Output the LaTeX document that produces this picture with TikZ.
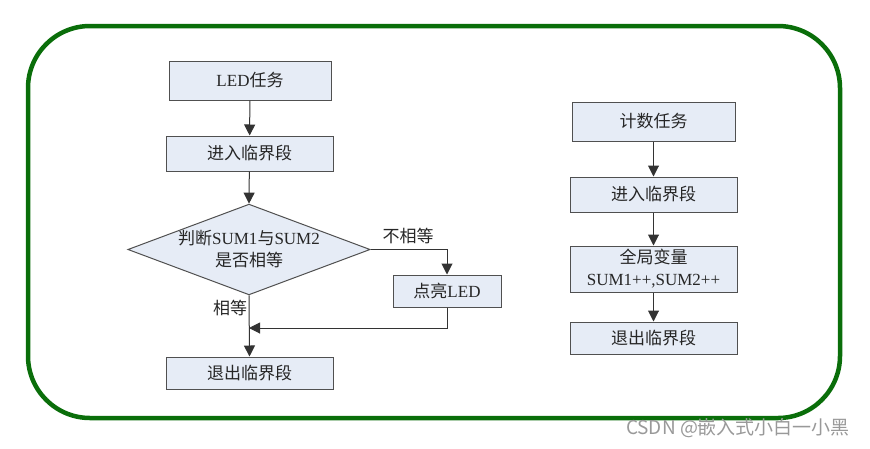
\documentclass[tikz,border=0pt]{standalone}
\usepackage{fontspec}
\setmainfont{Liberation Serif}
\newfontfamily\cjk{Noto Sans CJK SC}
\usetikzlibrary{shapes.geometric,arrows.meta}
\definecolor{boxfill}{RGB}{230,236,246}
\definecolor{boxline}{RGB}{80,80,80}
\definecolor{framegreen}{RGB}{10,110,10}
\begin{document}
\begin{tikzpicture}[x=1pt,y=-1pt,
  every node/.style={font=\fontsize{17}{22}\selectfont, text=black!85},
  box/.style={draw=boxline, fill=boxfill, line width=1pt, inner sep=0pt, align=center},
  dia/.style={diamond, draw=boxline, fill=boxfill, line width=1pt, inner sep=0pt, aspect=2.67, align=center},
  arr/.style={draw=black!80, line width=1pt, -{Triangle[width=11pt,length=11pt]}},
  lbl/.style={inner sep=0pt}]
\useasboundingbox (0,0) rectangle (870,448);
\draw[framegreen, line width=4.5pt, rounded corners=62pt] (28,26) rectangle (840,418);

% left column
\node[box, minimum width=162, minimum height=39] (t1) at (250,80.5) {LED{\cjk 任务}};
\node[box, minimum width=167, minimum height=35] (e1) at (249.5,153.5) {{\cjk 进入临界段}};
\node[dia, minimum width=238, minimum height=89] (d) at (249,249.5) {{\cjk 判断}SUM1{\cjk 与}SUM2\\{\cjk 是否相等}};
\node[box, minimum width=108, minimum height=32] (led) at (447,291) {{\cjk 点亮}LED};
\node[box, minimum width=167, minimum height=32] (x1) at (249.5,373) {{\cjk 退出临界段}};
\coordinate (j) at (249,328);
\node[lbl] (ne) at (408,236) {{\cjk 不相等}};
\node[lbl] (eq) at (230,308) {{\cjk 相等}};

\draw[arr] (t1) -- (e1);
\draw[arr] (e1) -- (d.north);
\draw[arr] (d.east) -| (led.north);
\draw[arr] (led.south) |- (j);
\draw[arr] (d.south) -- (x1.north);

% right column
\node[box, minimum width=163, minimum height=39] (t2) at (653.5,121.5) {{\cjk 计数任务}};
\node[box, minimum width=167, minimum height=35] (e2) at (653.5,194.5) {{\cjk 进入临界段}};
\node[box, minimum width=167, minimum height=46] (g) at (653.5,269) {{\cjk 全局变量}\\SUM1++,SUM2++};
\node[box, minimum width=167, minimum height=32] (x2) at (653.5,338) {{\cjk 退出临界段}};
\draw[arr] (t2) -- (e2);
\draw[arr] (e2) -- (g);
\draw[arr] (g) -- (x2);

% watermark
\node[lbl, text=black!40, font=\cjk\fontsize{19}{22}\selectfont] (wm) at (738,428) {CSDN @嵌入式小白一小黑};
\end{tikzpicture}
\end{document}
